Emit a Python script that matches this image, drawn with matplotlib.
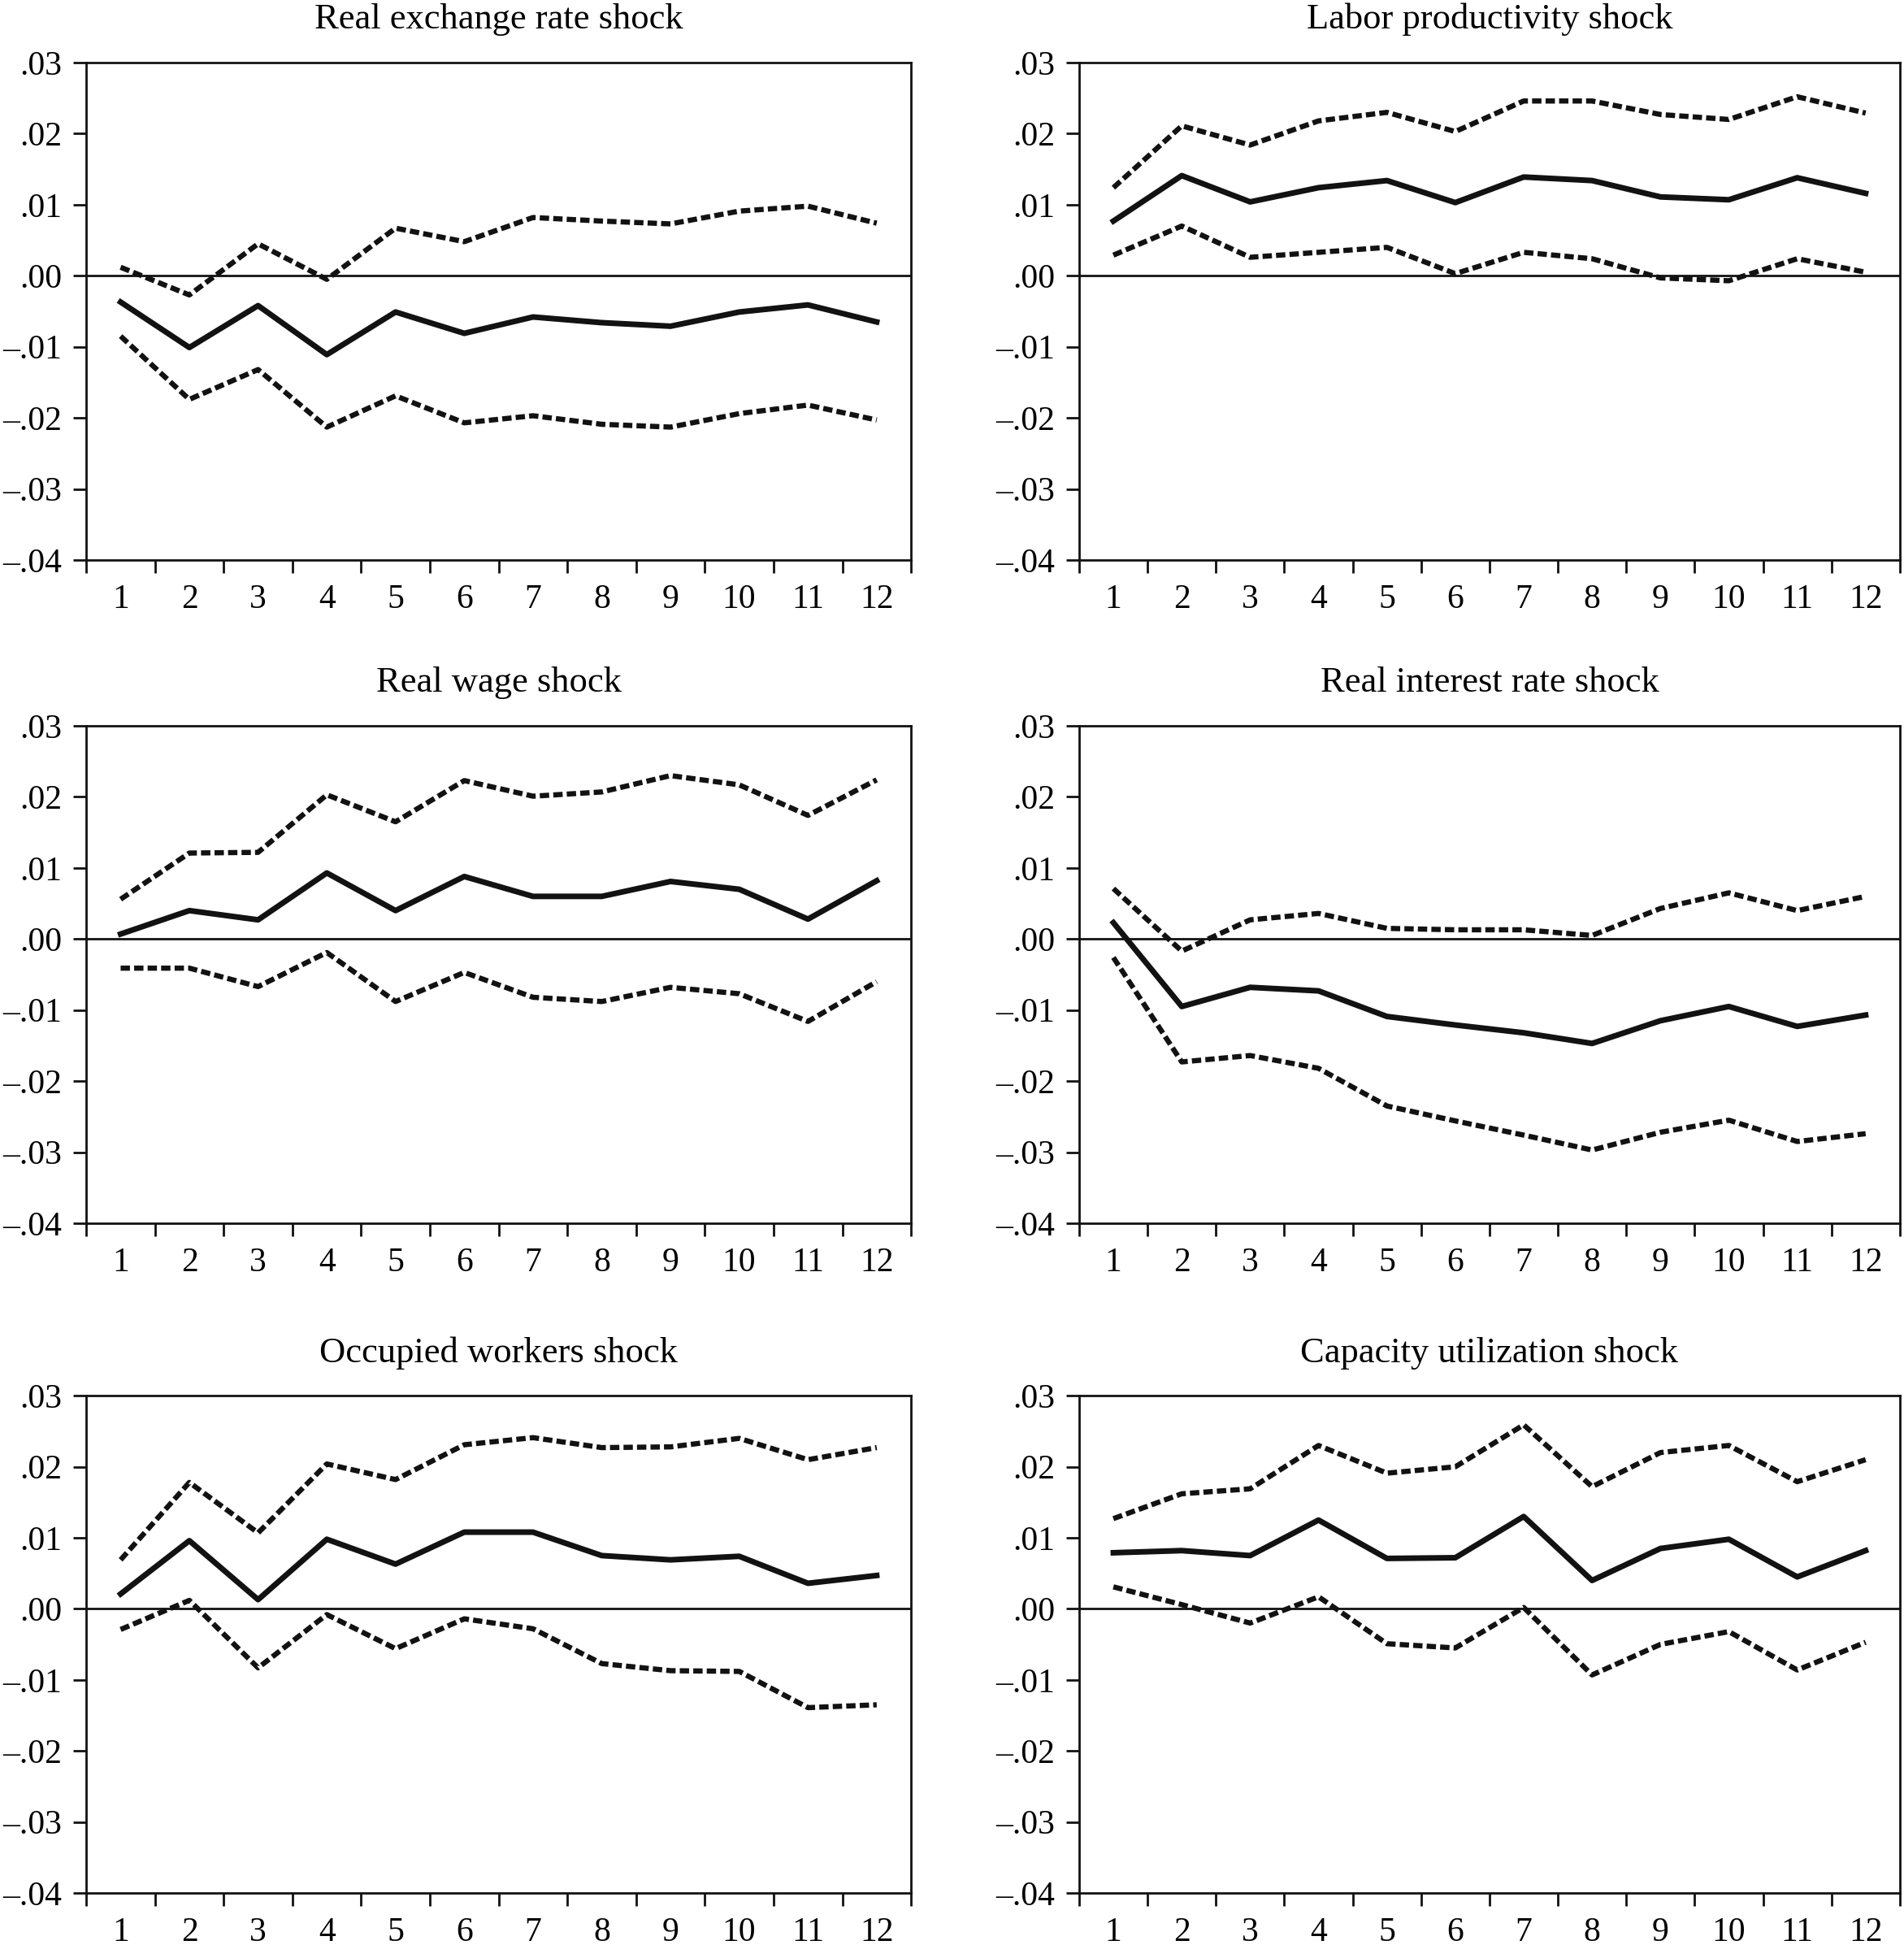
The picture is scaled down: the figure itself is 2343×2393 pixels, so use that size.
import numpy as np
import matplotlib.pyplot as plt
from matplotlib.ticker import FixedLocator, FuncFormatter

plt.rcParams['font.family'] = ['Liberation Serif', 'DejaVu Serif']

# horizon (periods after the shock)
periods = list(range(1, 13))

# Real exchange rate shock
rer_mid = [-0.0037, -0.0101, -0.0042, -0.0111, -0.0051, -0.0081, -0.0058, -0.0066, -0.0071, -0.0051, -0.0041, -0.0065]
rer_hi = [0.0012, -0.0027, 0.0045, -0.0005, 0.0067, 0.0048, 0.0082, 0.0077, 0.0073, 0.0091, 0.0098, 0.0074]
rer_lo = [-0.0085, -0.0174, -0.0132, -0.0213, -0.0169, -0.0207, -0.0197, -0.0209, -0.0213, -0.0194, -0.0182, -0.0203]

# Labor productivity shock
lp_mid = [0.0077, 0.0141, 0.0104, 0.0124, 0.0134, 0.0103, 0.0139, 0.0134, 0.0111, 0.0107, 0.0138, 0.0116]
lp_hi = [0.0124, 0.0211, 0.0184, 0.0218, 0.0230, 0.0203, 0.0246, 0.0246, 0.0227, 0.0220, 0.0252, 0.0229]
lp_lo = [0.0029, 0.0070, 0.0026, 0.0033, 0.0040, 0.0003, 0.0033, 0.0024, -0.0003, -0.0007, 0.0024, 0.0005]

# Real wage shock
rw_mid = [0.0007, 0.0040, 0.0027, 0.0093, 0.0040, 0.0088, 0.0060, 0.0060, 0.0081, 0.0070, 0.0028, 0.0082]
rw_hi = [0.0056, 0.0121, 0.0122, 0.0203, 0.0165, 0.0223, 0.0201, 0.0207, 0.0230, 0.0217, 0.0174, 0.0224]
rw_lo = [-0.0041, -0.0041, -0.0067, -0.0019, -0.0088, -0.0047, -0.0082, -0.0088, -0.0068, -0.0077, -0.0116, -0.0060]

# Real interest rate shock
ri_mid = [0.0023, -0.0095, -0.0068, -0.0073, -0.0109, -0.0121, -0.0132, -0.0147, -0.0115, -0.0095, -0.0123, -0.0107]
ri_hi = [0.0071, -0.0017, 0.0027, 0.0036, 0.0015, 0.0013, 0.0013, 0.0005, 0.0043, 0.0065, 0.0040, 0.0060]
ri_lo = [-0.0026, -0.0173, -0.0164, -0.0182, -0.0235, -0.0256, -0.0276, -0.0297, -0.0272, -0.0255, -0.0285, -0.0274]

# Occupied workers shock
ow_mid = [0.0021, 0.0096, 0.0013, 0.0098, 0.0063, 0.0108, 0.0108, 0.0075, 0.0069, 0.0074, 0.0036, 0.0047]
ow_hi = [0.0069, 0.0178, 0.0107, 0.0204, 0.0182, 0.0231, 0.0241, 0.0227, 0.0228, 0.0240, 0.0210, 0.0227]
ow_lo = [-0.0029, 0.0012, -0.0083, -0.0008, -0.0056, -0.0014, -0.0028, -0.0077, -0.0087, -0.0088, -0.0139, -0.0135]

# Capacity utilization shock
cu_mid = [0.0079, 0.0082, 0.0075, 0.0125, 0.0071, 0.0072, 0.0130, 0.0040, 0.0085, 0.0098, 0.0045, 0.0082]
cu_hi = [0.0127, 0.0162, 0.0169, 0.0230, 0.0191, 0.0200, 0.0259, 0.0172, 0.0220, 0.0230, 0.0179, 0.0210]
cu_lo = [0.0031, 0.0006, -0.0020, 0.0017, -0.0049, -0.0055, 0.0002, -0.0093, -0.0050, -0.0032, -0.0086, -0.0047]

titles = ['Real exchange rate shock', 'Labor productivity shock',
          'Real wage shock', 'Real interest rate shock',
          'Occupied workers shock', 'Capacity utilization shock']
panels = [(rer_mid, rer_hi, rer_lo), (lp_mid, lp_hi, lp_lo),
          (rw_mid, rw_hi, rw_lo), (ri_mid, ri_hi, ri_lo),
          (ow_mid, ow_hi, ow_lo), (cu_mid, cu_hi, cu_lo)]

y_ticks = [-0.04, -0.03, -0.02, -0.01, 0.0, 0.01, 0.02, 0.03]


def fmt_y(v, pos):
    s = f'{abs(v):.2f}'.lstrip('0')
    return ('\u2013' + s) if v < -1e-9 else s


fig = plt.figure(figsize=(23.43, 23.93), dpi=100)

# axes boxes in figure fractions: [left, bottom, width, height]
col_x = [(0.0453, 0.4332), (0.5668, 0.4310)]
row_y = [(0.7121, 0.2557), (0.3711, 0.2557), (0.0267, 0.2557)]

ink = '#121212'

for i, (title, (mid, hi, lo)) in enumerate(zip(titles, panels)):
    r, c = divmod(i, 2)
    ax = fig.add_axes([col_x[c][0], row_y[r][0], col_x[c][1], row_y[r][1]])

    ax.axhline(0, color=ink, linewidth=2.0, zorder=1)
    ax.plot(periods, mid, color=ink, linewidth=5.0, zorder=3)
    ax.plot(periods, hi, color=ink, linewidth=4.6, dashes=(1.8, 0.8), zorder=2)
    ax.plot(periods, lo, color=ink, linewidth=4.6, dashes=(1.8, 0.8), zorder=2)

    ax.set_xlim(0.5, 12.5)
    ax.set_ylim(-0.04, 0.03)

    # labels sit between tick marks, tick marks at the period boundaries
    ax.xaxis.set_major_locator(FixedLocator(periods))
    ax.xaxis.set_minor_locator(FixedLocator(np.arange(0.5, 13.0, 1.0)))
    ax.tick_params(axis='x', which='major', length=0, pad=21, labelsize=30)
    ax.tick_params(axis='x', which='minor', length=11.5, width=2.0, direction='out', color=ink)

    ax.yaxis.set_major_locator(FixedLocator(y_ticks))
    ax.yaxis.set_major_formatter(FuncFormatter(fmt_y))
    ax.tick_params(axis='y', which='major', length=11.5, width=2.0, direction='out',
                   pad=10, labelsize=30, color=ink)

    for sp in ax.spines.values():
        sp.set_linewidth(2.0)
        sp.set_color(ink)

    ax.set_title(title, fontsize=32, pad=30)

fig.savefig('out.png', dpi=100)
